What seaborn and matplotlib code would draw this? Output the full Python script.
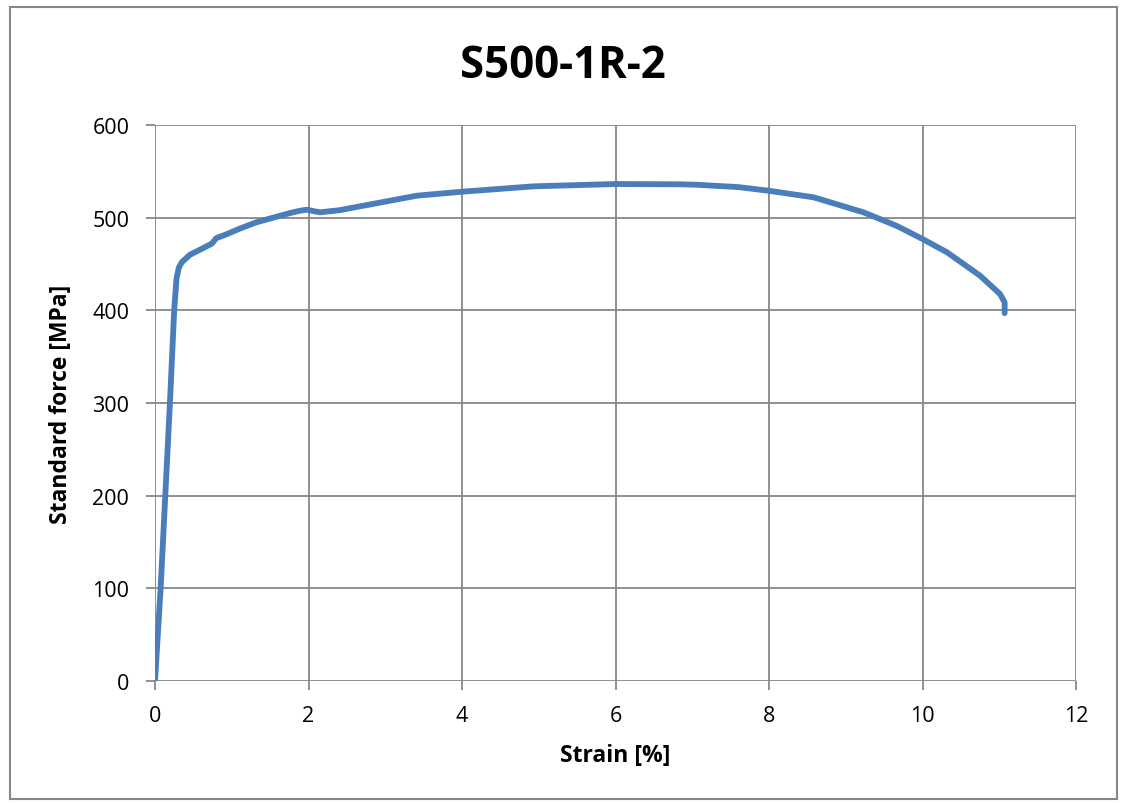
import numpy as np
import pandas as pd
import matplotlib
matplotlib.use("Agg")
import matplotlib.pyplot as plt
import seaborn as sns
from matplotlib.patches import Rectangle

strain = [0.0, 0.074, 0.195, 0.25, 0.28, 0.31, 0.35, 0.456, 0.60, 0.74, 0.80, 0.93, 1.10, 1.32,
          1.54, 1.76, 1.89, 1.98, 2.07, 2.15, 2.4, 2.76, 3.41, 4.0, 4.93, 6.0, 6.84, 7.06,
          7.6, 8.0, 8.58, 9.23, 9.66, 10.0, 10.32, 10.75, 11.01, 11.07, 11.07]
stress = [0, 101, 301, 400, 434, 446, 452, 460, 466, 472, 478, 482, 488, 495,
          500, 505, 507.5, 508.6, 507, 505.8, 508, 513.6, 523.7, 528, 533.8, 536.3, 536.0, 535.5,
          533, 529, 522, 505.8, 491.3, 477, 462.6, 437.4, 417.6, 408.6, 397]
xticks = [0, 2, 4, 6, 8, 10, 12]
yticks = [0, 100, 200, 300, 400, 500, 600]
title = "S500-1R-2"
xlabel = "Strain [%]"
ylabel = "Standard force [MPa]"

df = pd.DataFrame({"strain": strain, "stress": stress})

sns.set_theme(style="white")
plt.rcParams['font.family'] = ['Open Sans', 'DejaVu Sans']
plt.rcParams['text.color'] = 'black'
plt.rcParams['axes.labelcolor'] = 'black'
plt.rcParams['xtick.color'] = 'black'
plt.rcParams['ytick.color'] = 'black'

fig = plt.figure(figsize=(11.25, 8.04), dpi=100)
ax = fig.add_axes([155/1125, 1-682/804, (1076-155)/1125, (682-126)/804])

sns.lineplot(data=df, x="strain", y="stress", ax=ax, sort=False, estimator=None,
             color="#4A7EBB", linewidth=4.2, solid_joinstyle="round", solid_capstyle="round")

ax.set_xlim(0, 12)
ax.set_ylim(0, 600)
ax.set_xticks(xticks)
ax.set_yticks(yticks)
ax.grid(True, color="#878787", linewidth=1.3)
for s in ax.spines.values():
    s.set_visible(False)
ax.tick_params(axis="both", which="both", length=6.5, width=1.3, color="#878787",
               labelsize=15.5, bottom=True, left=True, labelcolor="black")
ax.tick_params(axis="y", pad=12)
ax.tick_params(axis="x", pad=11)
ax.set_xlabel(xlabel, fontsize=16.5, fontweight="bold", labelpad=12, color="black")
ax.set_ylabel(ylabel, fontsize=16.5, fontweight="bold", labelpad=14, color="black")
fig.text(0.5, 1-66/804, title, ha="center", va="center", fontsize=31.5, fontweight="bold",
         color="black")

fig.patches.append(Rectangle((10/1125, 1-800/804), 1107/1125, 792/804, transform=fig.transFigure,
                             fill=False, edgecolor="#878787", linewidth=1.5))

fig.savefig("out.png", dpi=100)
